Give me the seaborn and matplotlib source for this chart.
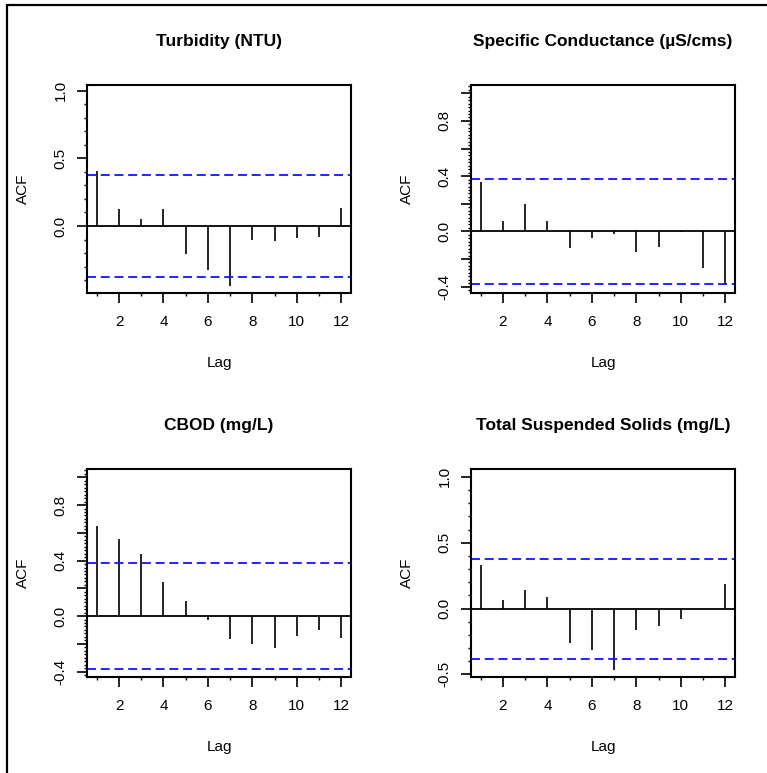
import matplotlib.pyplot as plt
import seaborn as sns
from matplotlib.ticker import MultipleLocator, FuncFormatter
from matplotlib.lines import Line2D

# ACF values (lags 1..12)
lags = [1, 2, 3, 4, 5, 6, 7, 8, 9, 10, 11, 12]
turbidity = [0.407, 0.123, 0.054, 0.123, -0.21, -0.326, -0.444, -0.101, -0.114, -0.091, -0.079, 0.136]
conductance = [0.361, 0.072, 0.200, 0.072, -0.123, -0.046, -0.019, -0.149, -0.113, -0.004, -0.263, -0.39]
cbod = [0.647, 0.556, 0.451, 0.245, 0.106, -0.029, -0.168, -0.201, -0.228, -0.146, -0.101, -0.158]
tss = [0.330, 0.065, 0.139, 0.091, -0.262, -0.312, -0.466, -0.166, -0.131, -0.081, -0.004, 0.184]

titles = ["Turbidity (NTU)", "Specific Conductance (\u00b5S/cms)", "CBOD (mg/L)", "Total Suspended Solids (mg/L)"]
series = [turbidity, conductance, cbod, tss]
ci = 0.38
ylims = [(-0.495, 1.042), (-0.446, 1.06), (-0.439, 1.06), (-0.52, 1.06)]
# (labelled step, unlabelled major step, minor step)
yticks = [(0.5, 0.5, 0.1), (0.4, 0.2, 0.025), (0.4, 0.2, 0.025), (0.5, 0.5, 0.1)]

sns.set_style("white")
plt.rcParams['font.family'] = ['Liberation Sans', 'DejaVu Sans']
plt.rcParams['text.color'] = 'black'
plt.rcParams['axes.labelcolor'] = 'black'
plt.rcParams['xtick.color'] = 'black'
plt.rcParams['ytick.color'] = 'black'

fig = plt.figure(figsize=(7.67, 7.73), dpi=100)
W, H = 767, 773
boxes = [(87, 85), (471, 85), (87, 469), (471, 469)]
aw, ah = 264, 208

for (x0, y0), title, vals, ylim, (lab, maj, mnr) in zip(boxes, titles, series, ylims, yticks):
    ax = fig.add_axes([x0 / W, 1 - (y0 + ah) / H, aw / W, ah / H])
    ax.vlines(lags, 0, vals, color="black", lw=1.2)
    ax.axhline(0, color="black", lw=1.3)
    for s in (ci, -ci):
        ax.axhline(s, color="#1414ff", lw=1.3, ls=(0, (5, 2.6)))
    ax.set_xlim(0.56, 12.44)
    ax.set_ylim(*ylim)

    ax.xaxis.set_major_locator(MultipleLocator(2))
    ax.xaxis.set_minor_locator(MultipleLocator(1))
    ax.yaxis.set_major_locator(MultipleLocator(maj))
    ax.yaxis.set_minor_locator(MultipleLocator(mnr))

    def fmt(v, pos, lab=lab):
        r = round(v / lab)
        if abs(v - r * lab) < 1e-6:
            return f"{v:.1f}".replace("-0.0", "0.0")
        return ""
    ax.yaxis.set_major_formatter(FuncFormatter(fmt))

    ax.tick_params(axis="both", which="major", direction="out", length=7, width=1.2,
                   labelsize=11, left=True, bottom=True)
    ax.tick_params(axis="both", which="minor", direction="out", length=2.5, width=1.0,
                   left=True, bottom=True)
    ax.tick_params(axis="x", which="major", pad=9)
    ax.tick_params(axis="y", which="major", pad=7, labelrotation=90)
    for t in ax.get_yticklabels():
        t.set_va("center")

    for sp in ax.spines.values():
        sp.set_visible(True)
        sp.set_color("black")
        sp.set_linewidth(1.5)

    ax.set_title(title, fontsize=12.5, fontweight="bold", pad=28)
    ax.set_xlabel("Lag", fontsize=11, labelpad=19)
    ax.set_ylabel("ACF", fontsize=11, labelpad=17)

# outer frame (top and left only, as in the reference)
fig.add_artist(Line2D([7 / W, 1], [1 - 5 / H, 1 - 5 / H], transform=fig.transFigure, color="black", lw=1.6))
fig.add_artist(Line2D([7 / W, 7 / W], [0, 1 - 5 / H], transform=fig.transFigure, color="black", lw=1.6))

fig.savefig("out.png", dpi=100, facecolor="white")
